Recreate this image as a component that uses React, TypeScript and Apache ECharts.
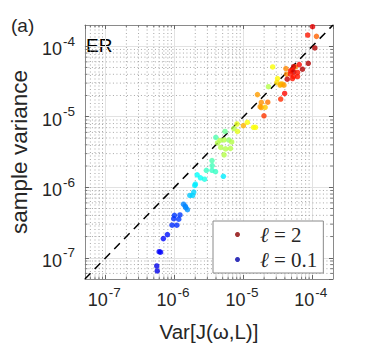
import React, { useEffect, useRef } from "react";
import * as echarts from "echarts";

// Var[J(ω,L)] (x), sample variance (y), and ℓ (colour) for each point
const varJ = [
  5.52e-7, 5.61e-7, 5.98e-7, 6.28e-7, 6.88e-7, 7.88e-7, 9.22e-7, 1.08e-6, 9.74e-7, 1.15e-6,
  9.97e-7, 1.2e-6, 1.35e-6, 1.43e-6, 1.54e-6, 1.46e-6, 1.67e-6, 1.83e-6, 1.9e-6, 2.01e-6,
  1.97e-6, 2.13e-6, 2.38e-6, 2.73e-6, 5.12e-6, 2.9e-6, 3.5e-6, 3.94e-6, 3.52e-6, 3.5e-6,
  3.98e-6, 5.41e-6, 4.57e-6, 5.24e-6, 6.16e-6, 4.69e-6, 5.52e-6, 6.49e-6, 5.24e-6, 4.21e-6,
  6.75e-6, 7.25e-6, 8.2e-6, 8.07e-6, 1.14e-5, 1.4e-5, 1.5e-5, 1.0e-5, 1.6e-5, 1.75e-5,
  1.82e-5, 2.07e-5, 1.82e-5, 2.26e-5, 1.99e-5, 2.31e-5, 2.66e-5, 3.13e-5, 3.06e-5, 3.48e-5,
  3.68e-5, 3.41e-5, 3.88e-5, 4.14e-5, 4.24e-5, 5.68e-5, 5.37e-5, 5.1e-5, 4.83e-5, 5.37e-5,
  6.12e-5, 4.83e-5, 5.15e-5, 6.12e-5, 5.37e-5, 4.33e-5, 3.97e-5, 3.48e-5, 6.47e-5, 7.2e-5,
  8.75e-5, 1.01e-4, 8.59e-5, 1.15e-4, 1.09e-4,
];
const sampleVar = [
  7.66e-8, 6.51e-8, 1.22e-7, 1.2e-7, 1.87e-7, 2.13e-7, 2.9e-7, 2.9e-7, 3.59e-7, 3.53e-7,
  4.0e-7, 4.05e-7, 5.75e-7, 5.39e-7, 4.81e-7, 5.13e-7, 7.66e-7, 7.66e-7, 8.55e-7, 1.11e-6,
  1.06e-6, 1.5e-6, 1.36e-6, 1.3e-6, 1.43e-6, 1.74e-6, 1.74e-6, 1.66e-6, 2.03e-6, 2.39e-6,
  5.09e-6, 6.18e-6, 4.61e-6, 4.69e-6, 4.69e-6, 3.67e-6, 3.5e-6, 3.56e-6, 2.88e-6, 4.25e-6,
  4.39e-6, 6.81e-6, 6.18e-6, 7.89e-6, 8.34e-6, 7.08e-6, 7.08e-6, 7.46e-6, 2.06e-5, 1.39e-5,
  1.35e-5, 1.36e-5, 1.6e-5, 1.61e-5, 1.03e-5, 2.67e-5, 5.08e-5, 3.48e-5, 3.06e-5, 2.9e-5,
  2.9e-5, 2.8e-5, 2.8e-5, 4.83e-5, 4.01e-5, 5.08e-5, 5.15e-5, 4.61e-5, 4.47e-5, 4.32e-5,
  4.24e-5, 4.01e-5, 3.48e-5, 3.72e-5, 3.72e-5, 3.41e-5, 2.14e-5, 1.78e-5, 5.5e-5, 4.72e-5,
  5.73e-5, 1.89e-4, 1.44e-4, 1.38e-4, 9.44e-5,
];
const ell = [
  0.29, 0.29, 0.33, 0.33, 0.35, 0.37, 0.42, 0.42, 0.42, 0.44,
  0.44, 0.44, 0.58, 0.58, 0.61, 0.59, 0.71, 0.73, 0.73, 0.78,
  0.78, 0.82, 0.82, 0.86, 0.78, 0.92, 0.92, 0.92, 0.94, 0.96,
  0.96, 1.01, 1.15, 1.15, 1.09, 1.15, 1.15, 1.15, 1.15, 1.15,
  1.15, 1.15, 1.24, 1.24, 1.28, 1.28, 1.28, 1.43, 1.47, 1.47,
  1.47, 1.39, 1.49, 1.54, 1.66, 1.15, 1.28, 1.3, 1.35, 1.43,
  1.43, 1.43, 1.47, 1.51, 1.51, 1.51, 1.85, 1.72, 1.72, 1.87,
  1.72, 1.72, 1.72, 1.72, 1.72, 1.87, 1.75, 1.68, 1.75, 1.91,
  1.91, 1.81, 1.72, 1.58, 1.91,
];
const axisMin = 5e-8;
const axisMax = 2e-4;
const minorGrid = [
  6e-8, 7e-8, 8e-8, 9e-8,
  2e-7, 3e-7, 4e-7, 5e-7, 6e-7, 7e-7, 8e-7, 9e-7,
  2e-6, 3e-6, 4e-6, 5e-6, 6e-6, 7e-6, 8e-6, 9e-6,
  2e-5, 3e-5, 4e-5, 5e-5, 6e-5, 7e-5, 8e-5, 9e-5,
];
const legendNames = ["ℓ = 2", "ℓ = 0.1"];
const legendColors = ["#8a0000", "#0000a8"];
const jet = ["#00008f", "#0000ff", "#0080ff", "#00ffff", "#80ff80", "#ffff00", "#ff8000", "#ff0000", "#800000"];

const FONT = "Liberation Sans, Arial, sans-serif";

export default function App() {
  const ref = useRef<HTMLDivElement>(null);
  useEffect(() => {
    if (!ref.current) return;
    const chart = echarts.init(ref.current, undefined, { renderer: "svg" });
    const tickFmt = (v: number) => {
      const e = Math.round(Math.log10(v));
      return `{b|10}{s|${e}}`;
    };
    const rich = {
      b: { fontSize: 18, fontFamily: FONT, color: "#262626", lineHeight: 24, verticalAlign: "bottom" },
      s: { fontSize: 13.5, fontFamily: FONT, color: "#262626", lineHeight: 24, verticalAlign: "top", padding: [0, 3, 0, 1] },
    };
    const baseAxis = {
      type: "log",
      logBase: 10,
      min: axisMin,
      max: axisMax,
      axisLine: { show: true, lineStyle: { color: "#8a8a8a", width: 1 } },
      axisTick: { show: true, inside: true, length: 4, lineStyle: { color: "#666" } },
    };
    const scatterData = varJ.map((x, i) => [x, sampleVar[i], ell[i]]);
    const gridData: any[] = [];
    minorGrid.forEach((v) => gridData.push([v, 0]));
    minorGrid.forEach((v) => gridData.push([v, 1]));

    const renderGrid = (params: any, api: any) => {
      const v = api.value(0);
      const vertical = api.value(1) === 0;
      const a = vertical ? api.coord([v, axisMin]) : api.coord([axisMin, v]);
      const b = vertical ? api.coord([v, axisMax]) : api.coord([axisMax, v]);
      const tl = 2.5;
      const tickStyle = { stroke: "#777", lineWidth: 1 };
      return {
        type: "group",
        children: [
          {
            type: "line",
            shape: { x1: a[0], y1: a[1], x2: b[0], y2: b[1] },
            style: { stroke: "#a8a8a8", lineWidth: 1, lineDash: [1, 2.5] },
          },
          vertical
            ? { type: "line", shape: { x1: a[0], y1: a[1], x2: a[0], y2: a[1] - tl }, style: tickStyle }
            : { type: "line", shape: { x1: a[0], y1: a[1], x2: a[0] + tl, y2: a[1] }, style: tickStyle },
          vertical
            ? { type: "line", shape: { x1: b[0], y1: b[1], x2: b[0], y2: b[1] + tl }, style: tickStyle }
            : { type: "line", shape: { x1: b[0], y1: b[1], x2: b[0] - tl, y2: b[1] }, style: tickStyle },
        ],
      };
    };

    chart.setOption({
      animation: false,
      backgroundColor: "#ffffff",
      textStyle: { fontFamily: FONT },
      grid: { left: 79, top: 25, width: 254, height: 256, containLabel: false },
      xAxis: [
        {
          ...baseAxis,
          position: "bottom",
          axisLabel: { formatter: tickFmt, rich, margin: 6, showMinLabel: false, showMaxLabel: false },
          splitLine: { show: true, lineStyle: { color: "#e2e2e2", width: 1 } },
          name: "Var[J(ω,L)]",
          nameLocation: "middle",
          nameGap: 42,
          nameTextStyle: { fontSize: 20.5, fontFamily: FONT, color: "#262626" },
        },
        {
          ...baseAxis,
          position: "top",
          axisLabel: { show: false },
          splitLine: { show: false },
        },
      ],
      yAxis: [
        {
          ...baseAxis,
          position: "left",
          axisLabel: { formatter: tickFmt, rich, margin: 7, showMinLabel: false, showMaxLabel: false },
          splitLine: { show: true, lineStyle: { color: "#e2e2e2", width: 1 } },
          name: "sample variance",
          nameLocation: "middle",
          nameGap: 51,
          nameTextStyle: { fontSize: 22.5, fontFamily: FONT, color: "#262626" },
        },
        {
          ...baseAxis,
          position: "right",
          axisLabel: { show: false },
          splitLine: { show: false },
        },
      ],
      visualMap: {
        show: false,
        type: "continuous",
        dimension: 2,
        min: 0.1,
        max: 2,
        seriesIndex: [2],
        inRange: { color: jet },
      },
      legend: {
        orient: "vertical",
        left: 213,
        top: 221,
        data: legendNames,
        backgroundColor: "#ffffff",
        borderColor: "#8a8a8a",
        borderWidth: 1,
        borderRadius: 0,
        padding: [3, 6, 3, 22],
        itemGap: 4,
        itemWidth: 5,
        itemHeight: 5,
        icon: "circle",
        selectedMode: false,
        formatter: (name: string) => {
          const rest = name.replace("ℓ", "");
          return `{g|}{i|ℓ}{n|${rest}}`;
        },
        textStyle: {
          rich: {
            g: { width: 15 },
            i: { fontSize: 21, fontFamily: "DejaVu Serif", fontStyle: "italic", color: "#262626", lineHeight: 20 },
            n: { fontSize: 21, fontFamily: "Liberation Serif", color: "#262626", lineHeight: 20 },
          },
        },
      },
      graphic: [
        { type: "text", left: 11, top: 16, style: { text: "(a)", fontSize: 19, fontFamily: FONT, fill: "#262626" } },
        { type: "text", left: 86, top: 36, style: { text: "ER", fontSize: 19, fontFamily: FONT, fill: "#000" } },
      ],
      series: [
        {
          type: "custom",
          data: gridData,
          renderItem: renderGrid,
          silent: true,
          clip: true,
          z: 1,
        },
        {
          type: "line",
          data: [
            [axisMin, axisMin],
            [axisMax, axisMax],
          ],
          symbol: "none",
          lineStyle: { color: "#000", width: 1.5, type: [8, 6] },
          silent: true,
          z: 2,
        },
        {
          type: "scatter",
          data: scatterData,
          symbolSize: 5.5,
          z: 3,
        },
        { type: "scatter", name: legendNames[0], data: [], itemStyle: { color: legendColors[0] } },
        { type: "scatter", name: legendNames[1], data: [], itemStyle: { color: legendColors[1] } },
      ],
    } as any);
    return () => chart.dispose();
  }, []);
  return (
    <div
      ref={ref}
      style={{ position: "fixed", left: 0, top: 0, width: 374, height: 347 }}
    />
  );
}
